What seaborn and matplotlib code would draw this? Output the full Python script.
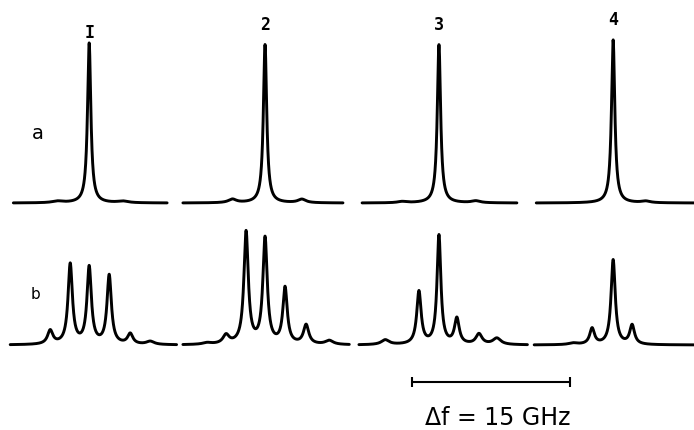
import numpy as np
import matplotlib
matplotlib.use('Agg')
import matplotlib.pyplot as plt
import seaborn as sns

# spectra: line positions (GHz from centre), amplitudes, half widths (GHz)
samples = ['I', '2', '3', '4']

a_pos = [[0.0, -3.0, 3.2],
         [0.0, -3.1, 3.5],
         [0.0, -3.5, 3.5],
         [0.0, 3.1]]
a_amp = [[1.0, 0.01, 0.01],
         [0.99, 0.022, 0.022],
         [0.99, 0.008, 0.012],
         [1.02, 0.01]]
a_wid = [[0.19, 0.6, 0.6],
         [0.19, 0.45, 0.45],
         [0.19, 0.5, 0.5],
         [0.19, 0.5]]

b_pos = [[-3.7, -1.8, 0.0, 1.9, 3.9, 5.8],
         [-5.5, -3.7, -1.8, 0.0, 1.9, 3.9, 6.1],
         [-5.1, -1.9, 0.0, 1.7, 3.8, 5.5],
         [-3.8, -2.0, 0.0, 1.8]]
b_amp = [[0.085, 0.5, 0.48, 0.43, 0.065, 0.02],
         [0.01, 0.055, 0.7, 0.66, 0.35, 0.12, 0.025],
         [0.03, 0.33, 0.68, 0.16, 0.065, 0.04],
         [0.01, 0.1, 0.53, 0.12]]
b_wid = [[0.3, 0.25, 0.25, 0.25, 0.3, 0.45],
         [0.5, 0.35, 0.25, 0.25, 0.25, 0.3, 0.45],
         [0.45, 0.25, 0.22, 0.27, 0.35, 0.45],
         [0.5, 0.27, 0.24, 0.27]]

# sweep range of each recorded trace (GHz)
a_range = [(-7.2, 7.4), (-7.8, 7.4), (-7.3, 7.4), (-7.3, 7.7)]
b_range = [(-7.5, 8.3), (-7.8, 8.0), (-7.6, 8.4), (-7.5, 7.7)]

scale_ghz = 15
scale_start = -2.56


def spectrum(pos, amp, wid, rng):
    f = np.linspace(rng[0], rng[1], 1500)
    y = np.zeros_like(f)
    for c, h, w in zip(pos, amp, wid):
        y += h / (1 + ((f - c) / w) ** 2)
    return f, y


sns.set_style('white')
plt.rcParams['font.family'] = ['DejaVu Sans']
plt.rcParams['text.color'] = 'black'

fig = plt.figure(figsize=(6.94, 4.31), dpi=100)
lefts = [-0.002, 0.2514, 0.502, 0.753]
axes_a, axes_b = [], []
for i in range(4):
    axa = fig.add_axes([lefts[i], 0.341, 0.261, 0.594])
    axb = fig.add_axes([lefts[i], 0.0116, 0.261, 0.594])
    for ax in (axa, axb):
        ax.set_xlim(-8.6, 8.6)
        ax.set_ylim(-0.5, 1.1)
        ax.axis('off')
        ax.patch.set_alpha(0)
    f, y = spectrum(a_pos[i], a_amp[i], a_wid[i], a_range[i])
    sns.lineplot(x=f, y=y, ax=axa, color='black', linewidth=2.1, sort=False,
                 estimator=None, solid_joinstyle='round', solid_capstyle='round')
    f, y = spectrum(b_pos[i], b_amp[i], b_wid[i], b_range[i])
    sns.lineplot(x=f, y=y, ax=axb, color='black', linewidth=2.1, sort=False,
                 estimator=None, solid_joinstyle='round', solid_capstyle='round')
    axes_a.append(axa)
    axes_b.append(axb)

label_y = [1.07, 1.12, 1.12, 1.15]
for i, ax in enumerate(axes_a):
    ax.text(0, label_y[i], samples[i], ha='center', va='center', fontsize=12,
            family='DejaVu Sans Mono', fontweight='bold', color='black')

axes_a[0].text(-4.9, 0.44, 'a', ha='center', va='center', fontsize=14, color='black')
axes_b[0].text(-5.1, 0.32, 'b', ha='center', va='center', fontsize=11, color='black')

# frequency scale bar
ax = axes_b[2]
ax.plot([scale_start, scale_start + scale_ghz], [-0.23, -0.23], color='black',
        lw=1.5, marker='|', markersize=7, mew=1.5, clip_on=False)
ax.text(scale_start + scale_ghz / 2 + 0.6, -0.45, 'Δf = 15 GHz', ha='center',
        va='center', fontsize=17, color='black', clip_on=False)

fig.savefig('out.png', dpi=100)
